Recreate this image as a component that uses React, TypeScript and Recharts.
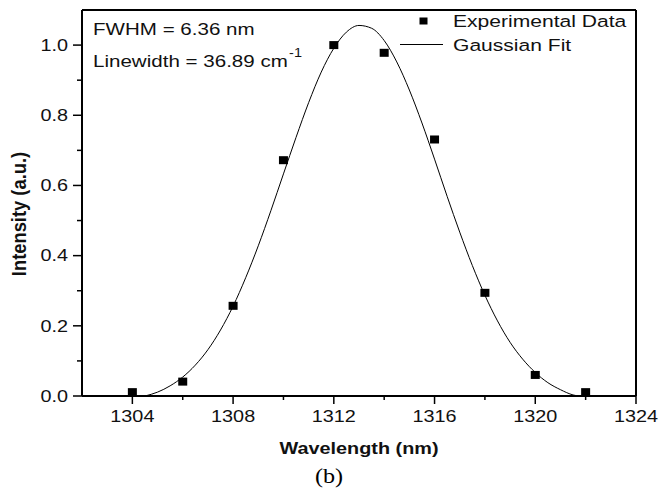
import React from "react";
import {
  ComposedChart,
  Line,
  Scatter,
  XAxis,
  YAxis,
  Legend,
  ReferenceLine,
  Label,
} from "recharts";

// measured points
const expX = [1304, 1306, 1308, 1310, 1312, 1314, 1316, 1318, 1320, 1322];
const expY = [0.011, 0.041, 0.257, 0.672, 1.0, 0.978, 0.731, 0.294, 0.06, 0.011];

// gaussian fit curve
const fitX = [
  1304.5, 1305, 1305.5, 1306, 1306.5, 1307, 1307.5, 1308, 1308.5, 1309, 1309.5, 1310,
  1310.5, 1311, 1311.5, 1312, 1312.5, 1313, 1313.5, 1314, 1314.5, 1315, 1315.5, 1316,
  1316.5, 1317, 1317.5, 1318, 1318.5, 1319, 1319.5, 1320, 1320.5, 1321, 1321.5, 1321.7,
];
const fitY = [
  0.0, 0.011, 0.029, 0.054, 0.088, 0.132, 0.188, 0.256, 0.337, 0.428, 0.528, 0.633,
  0.737, 0.836, 0.923, 0.991, 1.037, 1.056, 1.048, 1.013, 0.952, 0.872, 0.778, 0.675,
  0.569, 0.467, 0.372, 0.287, 0.214, 0.153, 0.105, 0.067, 0.038, 0.018, 0.003, 0.0,
];

const xTicks = [1304, 1306, 1308, 1310, 1312, 1314, 1316, 1318, 1320, 1322, 1324];
const yTicks = [0, 0.1, 0.2, 0.3, 0.4, 0.5, 0.6, 0.7, 0.8, 0.9, 1.0];

const expData = expX.map((x, i) => ({ x, y: expY[i] }));
const fitData = fitX.map((x, i) => ({ x, y: fitY[i] }));

const FONT = "Arial, 'Liberation Sans', sans-serif";
const SX = 1.24; // the source image is stretched horizontally
const INK = "#111";

const XTick = (props: any) => {
  const { x, y, payload } = props;
  const v = payload.value;
  const major = (v - 1304) % 4 === 0;
  return (
    <g>
      <line x1={x} x2={x} y1={y} y2={y + (major ? 8 : 4)} stroke="#000" strokeWidth={1.5} />
      {major && (
        <text
          transform={`translate(${x},${y + 26}) scale(${SX},1)`}
          textAnchor="middle"
          fontSize={16}
          fontFamily={FONT}
          fill={INK}
        >
          {v}
        </text>
      )}
    </g>
  );
};

const YTick = (props: any) => {
  const { x, y, payload } = props;
  const v = payload.value;
  const major = Math.round(v * 10) % 2 === 0;
  return (
    <g>
      <line x1={x} x2={x - (major ? 9 : 5)} y1={y} y2={y} stroke="#000" strokeWidth={1.5} />
      {major && (
        <text
          transform={`translate(${x - 14},${y + 5.7}) scale(${SX},1)`}
          textAnchor="end"
          fontSize={16}
          fontFamily={FONT}
          fill={INK}
        >
          {v.toFixed(1)}
        </text>
      )}
    </g>
  );
};

const Square = (props: any) => {
  const { cx, cy } = props;
  return <rect x={cx - 4.5} y={cy - 4} width={9} height={8} fill="#000" />;
};

const LegendBox = () => (
  <svg width={250} height={52} style={{ display: "block" }}>
    <rect x={25.5} y={16.5} width={8} height={7} fill="#000" />
    <text transform={`translate(59,26) scale(${SX},1)`} fontSize={17} fontFamily={FONT} fill={INK}>
      Experimental Data
    </text>
    <line x1={6} x2={49} y1={43.5} y2={43.5} stroke="#000" strokeWidth={1} />
    <text transform={`translate(59,49.5) scale(${SX},1)`} fontSize={17} fontFamily={FONT} fill={INK}>
      Gaussian Fit
    </text>
  </svg>
);

export default function App() {
  return (
    <div style={{ position: "absolute", left: 0, top: 0, width: 660, height: 488, background: "#fff" }}>
      <ComposedChart width={660} height={488} margin={{ top: 10, right: 24, bottom: 30, left: 0 }}>
        <XAxis
          type="number"
          dataKey="x"
          domain={[1302, 1324]}
          ticks={xTicks}
          tick={<XTick />}
          tickLine={false}
          tickSize={0}
          tickMargin={0}
          axisLine={{ stroke: "#000", strokeWidth: 2 }}
          height={62}
          allowDataOverflow
        >
          <Label
            content={(p: any) => {
              const vb = p.viewBox;
              return (
                <text
                  transform={`translate(${vb.x + vb.width / 2},454) scale(${SX},1)`}
                  textAnchor="middle"
                  fontSize={16}
                  fontWeight="bold"
                  fontFamily={FONT}
                  fill={INK}
                >
                  Wavelength (nm)
                </text>
              );
            }}
          />
        </XAxis>
        <YAxis
          type="number"
          dataKey="y"
          domain={[0, 1.1]}
          ticks={yTicks}
          tick={<YTick />}
          tickLine={false}
          tickSize={0}
          tickMargin={0}
          axisLine={{ stroke: "#000", strokeWidth: 2 }}
          width={82}
          allowDataOverflow
        >
          <Label
            content={() => (
              <text
                transform={`translate(26,214) rotate(-90) scale(1.08,${SX})`}
                textAnchor="middle"
                fontSize={17}
                fontWeight="bold"
                fontFamily={FONT}
                fill={INK}
              >
                Intensity (a.u.)
              </text>
            )}
          />
        </YAxis>
        <ReferenceLine y={1.1} stroke="#000" strokeWidth={2} />
        <ReferenceLine x={1324} stroke="#000" strokeWidth={2} />
        <Line
          data={fitData}
          dataKey="y"
          type="monotone"
          stroke="#000"
          strokeWidth={1}
          dot={false}
          isAnimationActive={false}
          legendType="line"
          name="Gaussian Fit"
        />
        <Scatter
          data={expData}
          dataKey="y"
          shape={<Square />}
          isAnimationActive={false}
          name="Experimental Data"
        />
        <Legend
          layout="horizontal"
          verticalAlign="middle"
          align="center"
          content={() => <LegendBox />}
          wrapperStyle={{ left: 394, top: 1, width: 250, height: 52 }}
        />
      </ComposedChart>
      <svg
        width={660}
        height={488}
        style={{ position: "absolute", left: 0, top: 0, pointerEvents: "none" }}
      >
        <text transform={`translate(93,35) scale(1.21,1)`} fontSize={17} fontFamily={FONT} fill={INK}>
          FWHM = 6.36 nm
        </text>
        <text transform={`translate(93,66.5) scale(1.21,1)`} fontSize={17} fontFamily={FONT} fill={INK}>
          Linewidth = 36.89 cm
          <tspan fontSize={12} dy={-10} dx={1}>-1</tspan>
        </text>
        <text
          transform={`translate(329,483) scale(1.15,1)`}
          textAnchor="middle"
          fontSize={21}
          fontFamily="'Liberation Serif', 'Times New Roman', serif"
          fill="#000"
        >
          (b)
        </text>
      </svg>
    </div>
  );
}
